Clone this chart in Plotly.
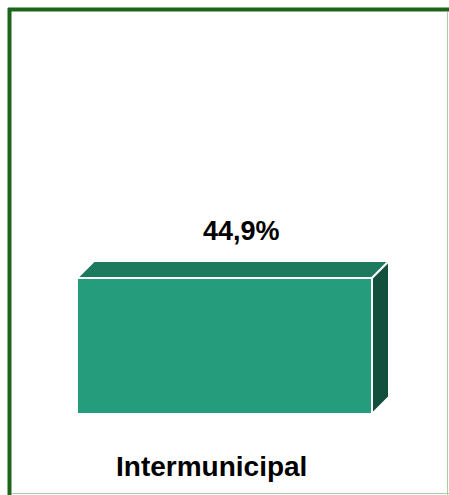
import plotly.graph_objects as go

# Data
categories = ["Intermunicipal"]
values = [44.9]
value_labels = ["44,9%"]

# Canvas geometry (pixels)
W, H = 449, 495
BAR_LEFT_PX, BAR_RIGHT_PX = 77, 372
BASE_PX, TOP_PX = 414, 278
DEPTH_X_PX, DEPTH_Y_PX = 17, 17

FRONT = "#259d7c"
TOP = "#1e7a5e"
SIDE = "#124f3c"
FRAME_DARK = "#1c6417"
FRAME_LIGHT = "#a9cfa4"

# Axis scales: bar of width 1 centred at x = 0
px_per_x = BAR_RIGHT_PX - BAR_LEFT_PX
centre_px = (BAR_LEFT_PX + BAR_RIGHT_PX) / 2
x_range = [-centre_px / px_per_x, (W - centre_px) / px_per_x]

px_per_y = (BASE_PX - TOP_PX) / max(values)
y_range = [-(H - BASE_PX) / px_per_y, BASE_PX / px_per_y]

dx = DEPTH_X_PX / px_per_x
dy = DEPTH_Y_PX / px_per_y

fig = go.Figure()

for i, (cat, v) in enumerate(zip(categories, values)):
    x0, x1 = i - 0.5, i + 0.5
    # front face
    fig.add_trace(go.Bar(
        x=[i], y=[v], width=1, marker=dict(color=FRONT, line=dict(color="white", width=2)),
        hoverinfo="skip", showlegend=False,
    ))
    # top face
    fig.add_trace(go.Scatter(
        x=[x0, x1, x1 + dx, x0 + dx, x0], y=[v, v, v + dy, v + dy, v],
        mode="lines", fill="toself", fillcolor=TOP,
        line=dict(color="white", width=2), hoverinfo="skip", showlegend=False,
    ))
    # side face
    fig.add_trace(go.Scatter(
        x=[x1, x1, x1 + dx, x1 + dx, x1], y=[0, v, v + dy, dy, 0],
        mode="lines", fill="toself", fillcolor=SIDE,
        line=dict(color="white", width=2), hoverinfo="skip", showlegend=False,
    ))
    # value label above the bar
    fig.add_annotation(
        x=i + dx, y=v + dy, text=f"<b>{value_labels[i]}</b>", showarrow=False,
        xanchor="center", yanchor="bottom", yshift=13,
        font=dict(family="Liberation Sans, Arial, sans-serif", size=27, color="black"),
    )
    # category label
    fig.add_annotation(
        x=i, xshift=-13, y=0, yshift=-(466 - BASE_PX), text=f"<b>{cat}</b>", showarrow=False,
        xanchor="center", yanchor="middle",
        font=dict(family="Liberation Sans, Arial, sans-serif", size=28, color="black"),
    )

# Frame: dark top/left edges, light bottom/right edges
def px(xp):
    return xp / W

def py(yp):
    return 1 - yp / H

frame = [
    (8, 9.5, W, 9.5, FRAME_DARK, 4),
    (9.5, 8, 9.5, H, FRAME_DARK, 4),
    (447.5, 12, 447.5, H, FRAME_LIGHT, 1),
    (12, 493.5, W, 493.5, FRAME_LIGHT, 1),
]
for xa, ya, xb, yb, col, w in frame:
    fig.add_shape(type="line", xref="paper", yref="paper",
                  x0=px(xa), y0=py(ya), x1=px(xb), y1=py(yb),
                  line=dict(color=col, width=w), layer="above")

fig.update_layout(
    width=W, height=H, margin=dict(l=0, r=0, t=0, b=0),
    paper_bgcolor="white", plot_bgcolor="white",
    xaxis=dict(range=x_range, visible=False, fixedrange=True),
    yaxis=dict(range=y_range, visible=False, fixedrange=True),
    bargap=0,
)

fig.write_html("out.html")
